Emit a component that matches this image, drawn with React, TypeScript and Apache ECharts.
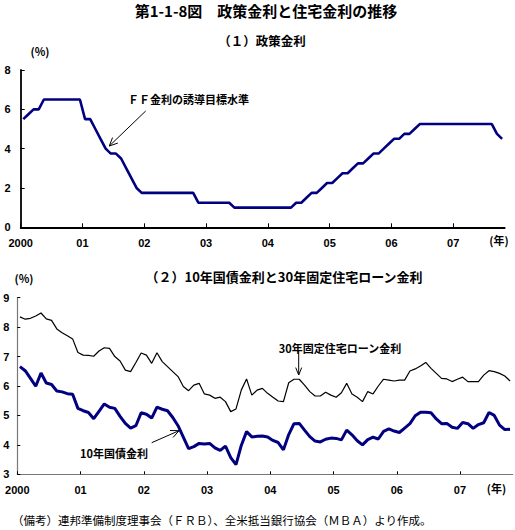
import React, { useEffect, useRef } from 'react';
import * as echarts from 'echarts';

// Year tick labels (one tick every 12 months, month index 0 = Jan 2000)
const yearLabels = ['2000', '01', '02', '03', '04', '05', '06', '07'];
const monthsOnAxis = 94; // Jan 2000 .. Oct 2007

// (1) FF rate target, monthly (Jan 2000 - Oct 2007), %
const ffTarget = [
  5.5, 5.75, 6.0, 6.0, 6.5, 6.5, 6.5, 6.5, 6.5, 6.5, 6.5, 6.5,
  5.5, 5.5, 5.0, 4.5, 4.0, 3.75, 3.75, 3.5, 3.0, 2.5, 2.0, 1.75,
  1.75, 1.75, 1.75, 1.75, 1.75, 1.75, 1.75, 1.75, 1.75, 1.75, 1.25, 1.25,
  1.25, 1.25, 1.25, 1.25, 1.25, 1.0, 1.0, 1.0, 1.0, 1.0, 1.0, 1.0,
  1.0, 1.0, 1.0, 1.0, 1.0, 1.25, 1.25, 1.5, 1.75, 1.75, 2.0, 2.25,
  2.25, 2.5, 2.75, 2.75, 3.0, 3.25, 3.25, 3.5, 3.75, 3.75, 4.0, 4.25,
  4.5, 4.5, 4.75, 4.75, 5.0, 5.25, 5.25, 5.25, 5.25, 5.25, 5.25, 5.25,
  5.25, 5.25, 5.25, 5.25, 5.25, 5.25, 5.25, 5.25, 4.75, 4.5,
];

// (2) 10-year Treasury yield, monthly, %
const treasury10y = [
  6.66, 6.52, 6.26, 5.99, 6.44, 6.10, 6.05, 5.83, 5.80, 5.74, 5.72, 5.24,
  5.16, 5.10, 4.89, 5.14, 5.39, 5.28, 5.24, 4.97, 4.73, 4.57, 4.65, 5.09,
  5.04, 4.91, 5.28, 5.21, 5.16, 4.93, 4.65, 4.26, 3.87, 3.94, 4.05, 4.03,
  4.05, 3.90, 3.81, 3.96, 3.57, 3.33, 3.98, 4.45, 4.27, 4.29, 4.30, 4.27,
  4.15, 4.08, 3.83, 4.35, 4.72, 4.73, 4.50, 4.28, 4.13, 4.10, 4.19, 4.23,
  4.22, 4.17, 4.50, 4.34, 4.14, 4.00, 4.18, 4.26, 4.20, 4.46, 4.54, 4.47,
  4.42, 4.57, 4.72, 4.99, 5.11, 5.11, 5.09, 4.88, 4.72, 4.73, 4.60, 4.56,
  4.76, 4.72, 4.56, 4.69, 4.75, 5.10, 5.00, 4.67, 4.52, 4.53,
];

// (2) 30-year fixed mortgage rate, monthly, %
const mortgage30y = [
  8.35, 8.27, 8.30, 8.38, 8.48, 8.28, 8.23, 7.94, 7.81, 7.71, 7.60, 7.14,
  7.05, 7.04, 7.01, 7.19, 7.30, 7.28, 7.00, 6.85, 6.54, 6.49, 6.80, 7.12,
  7.05, 6.77, 7.13, 6.83, 6.66, 6.49, 6.32, 5.98, 5.84, 6.03, 6.09, 5.73,
  5.69, 5.58, 5.62, 5.47, 5.13, 5.22, 5.86, 6.24, 5.69, 5.86, 5.92, 5.75,
  5.62, 5.49, 5.47, 6.11, 6.23, 6.23, 6.03, 5.81, 5.66, 5.66, 5.79, 5.69,
  5.62, 5.77, 6.09, 5.73, 5.62, 5.47, 5.81, 5.73, 6.00, 6.23, 6.20, 6.17,
  6.20, 6.20, 6.51, 6.58, 6.68, 6.80, 6.60, 6.43, 6.26, 6.24, 6.15, 6.23,
  6.30, 6.15, 6.15, 6.15, 6.37, 6.52, 6.49, 6.43, 6.34, 6.17,
];

const JP = '"Noto Sans CJK JP", sans-serif';
const NUM = '"Liberation Sans", Arial, sans-serif';

const tickValues = yearLabels.map((_, k) => k * 12);
const toPoints = (arr: number[]) => arr.map((v, i) => [i + 0.5, v]);

function arrow(x1: number, y1: number, x2: number, y2: number, len: number, spread: number, lw: number) {
  const dx = x1 - x2;
  const dy = y1 - y2;
  const d = Math.hypot(dx, dy);
  const ux = dx / d;
  const uy = dy / d;
  const a = (spread * Math.PI) / 180;
  const c = Math.cos(a);
  const s = Math.sin(a);
  const p1 = [x2 + len * (ux * c - uy * s), y2 + len * (ux * s + uy * c)];
  const p2 = [x2 + len * (ux * c + uy * s), y2 + len * (-ux * s + uy * c)];
  return [
    { type: 'line', shape: { x1, y1, x2, y2 }, style: { stroke: '#000', lineWidth: lw } },
    { type: 'polyline', shape: { points: [p1, [x2, y2], p2] }, style: { stroke: '#000', lineWidth: lw, fill: null } },
  ];
}

function txt(text: string, x: number, y: number, size: number, weight: string, align = 'left', family = JP) {
  return {
    type: 'text',
    x,
    y,
    style: { text, fontSize: size, fontWeight: weight, fontFamily: family, fill: '#000', textAlign: align, textVerticalAlign: 'middle' },
  };
}

function xAxisCfg(gridIndex: number, color: string, width: number, tickLen: number) {
  return {
    gridIndex,
    type: 'value',
    min: 0,
    max: monthsOnAxis,
    interval: 12,
    axisLine: { show: true, onZero: false, lineStyle: { color, width } },
    axisTick: { show: true, inside: true, length: tickLen, customValues: tickValues, lineStyle: { color: '#000', width: 1 } },
    axisLabel: {
      show: true,
      customValues: tickValues,
      margin: 10,
      color: '#000',
      fontSize: 11,
      fontWeight: 'bold',
      fontFamily: NUM,
      formatter: (v: number) => (v % 12 === 0 && v / 12 < yearLabels.length ? yearLabels[v / 12] : ''),
    },
    splitLine: { show: false },
  };
}

function yAxisCfg(gridIndex: number, min: number, max: number, interval: number, color: string, width: number, tickLen: number, margin: number) {
  return {
    gridIndex,
    type: 'value',
    min,
    max,
    interval,
    axisLine: { show: true, lineStyle: { color, width } },
    axisTick: { show: true, inside: true, length: tickLen, lineStyle: { color: '#000', width: 1 } },
    axisLabel: { show: true, margin, color: '#000', fontSize: 11, fontWeight: 'bold', fontFamily: NUM },
    splitLine: { show: false },
  };
}

export default function App() {
  const ref = useRef<HTMLDivElement>(null);

  useEffect(() => {
    if (!ref.current) return;
    const chart = echarts.init(ref.current, undefined, { renderer: 'svg' });
    const option = {
      animation: false,
      backgroundColor: '#fff',
      grid: [
        { left: 20.7, top: 70, width: 484, height: 157.3, containLabel: false },
        { left: 17.3, top: 297.7, width: 495.4, height: 176.6, containLabel: false },
      ],
      xAxis: [xAxisCfg(0, '#000', 1.8, 4), xAxisCfg(1, '#777', 1.2, 3)],
      yAxis: [yAxisCfg(0, 0, 8, 2, '#000', 1.8, 4, 10), yAxisCfg(1, 3, 9, 1, '#777', 1.2, 3, 8)],
      series: [
        {
          name: 'ＦＦ金利の誘導目標水準',
          type: 'line',
          xAxisIndex: 0,
          yAxisIndex: 0,
          data: toPoints(ffTarget),
          showSymbol: false,
          lineStyle: { color: '#000080', width: 2.6 },
        },
        {
          name: '30年固定住宅ローン金利',
          type: 'line',
          xAxisIndex: 1,
          yAxisIndex: 1,
          data: toPoints(mortgage30y),
          showSymbol: false,
          lineStyle: { color: '#000', width: 1.2 },
        },
        {
          name: '10年国債金利',
          type: 'line',
          xAxisIndex: 1,
          yAxisIndex: 1,
          data: toPoints(treasury10y),
          showSymbol: false,
          lineStyle: { color: '#000080', width: 3 },
        },
      ],
      graphic: [
        txt('第1-1-8図　政策金利と住宅金利の推移', 266, 10, 15, 'bold', 'center'),
        txt('（１）政策金利', 262, 40, 12.5, 'bold', 'center'),
        txt('(%)', 40, 51, 11, 'bold', 'center'),
        txt('(年)', 499, 240, 11, 'bold', 'center'),
        txt('ＦＦ金利の誘導目標水準', 128, 99, 11, 'bold', 'left'),
        ...arrow(145.7, 111, 109.3, 146, 9, 25, 1),
        txt('（２）10年国債金利と30年固定住宅ローン金利', 284, 276, 13, 'bold', 'center'),
        txt('(%)', 24, 278, 11, 'bold', 'center'),
        txt('(年)', 496.5, 488, 11, 'bold', 'center'),
        txt('30年固定住宅ローン金利', 340, 347.5, 11, 'bold', 'center'),
        ...arrow(298.7, 351, 298.7, 375, 8, 22, 1),
        txt('10年国債金利', 80, 452.5, 11, 'bold', 'left'),
        ...arrow(151.7, 442.7, 179, 430.7, 9, 25, 1),
        txt('（備考）連邦準備制度理事会（ＦＲＢ）、全米抵当銀行協会（ＭＢＡ）より作成。', 12, 520, 11.5, 'normal', 'left'),
      ],
    };
    chart.setOption(option as any);
    return () => chart.dispose();
  }, []);

  return <div ref={ref} style={{ position: 'fixed', left: 0, top: 0, width: 515, height: 530 }} />;
}
